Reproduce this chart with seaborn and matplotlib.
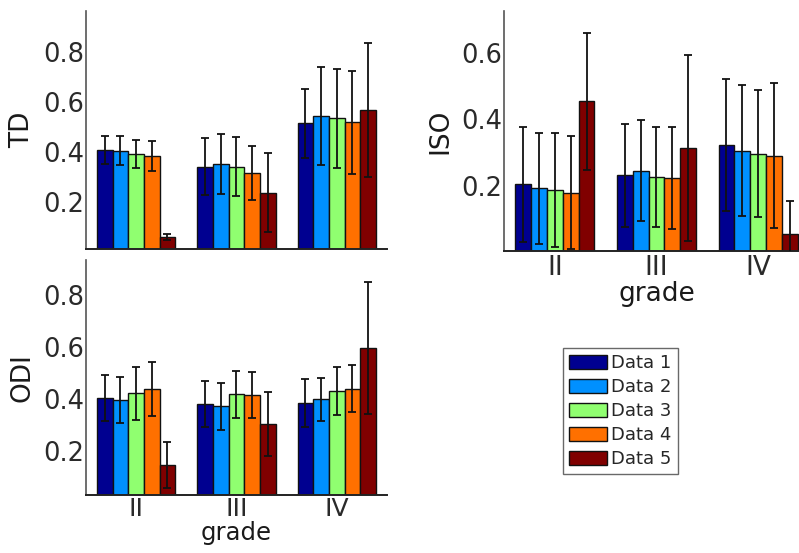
import numpy as np
import pandas as pd
import matplotlib
matplotlib.use("Agg")
import matplotlib.pyplot as plt
from matplotlib.patches import Patch
import seaborn as sns

sns.set_style("white")
plt.rcParams['font.family'] = ['DejaVu Sans']

grades = ['II', 'III', 'IV']
series = ['Data 1', 'Data 2', 'Data 3', 'Data 4', 'Data 5']
colors = ['#000090', '#0090ff', '#90ff70', '#ff7000', '#800000']

# means per series (rows) and grade (cols)
td_mean = [[0.407, 0.340, 0.514],
           [0.404, 0.350, 0.544],
           [0.390, 0.340, 0.534],
           [0.383, 0.314, 0.518],
           [0.058, 0.236, 0.568]]
td_err = [[0.057, 0.114, 0.138],
          [0.058, 0.120, 0.196],
          [0.057, 0.118, 0.198],
          [0.060, 0.109, 0.206],
          [0.013, 0.159, 0.268]]

iso_mean = [[0.204, 0.231, 0.322],
            [0.192, 0.246, 0.306],
            [0.188, 0.226, 0.297],
            [0.179, 0.224, 0.291],
            [0.454, 0.313, 0.056]]
iso_err = [[0.173, 0.155, 0.198],
           [0.168, 0.152, 0.197],
           [0.171, 0.150, 0.192],
           [0.170, 0.153, 0.217],
           [0.205, 0.280, 0.099]]

odi_mean = [[0.404, 0.379, 0.384],
            [0.397, 0.372, 0.398],
            [0.421, 0.417, 0.429],
            [0.437, 0.414, 0.439],
            [0.146, 0.304, 0.596]]
odi_err = [[0.088, 0.089, 0.091],
           [0.088, 0.090, 0.082],
           [0.102, 0.090, 0.092],
           [0.104, 0.089, 0.091],
           [0.088, 0.124, 0.256]]


def to_frame(mean, err):
    rows = []
    for i, s in enumerate(series):
        for j, g in enumerate(grades):
            rows.append({'grade': g, 'series': s, 'value': mean[i][j], 'err': err[i][j]})
    return pd.DataFrame(rows)


def draw(ax, mean, err, ylabel, ylim, yticks, show_x,
         xtick_size=19, xtick_pad=3, xlabel_size=19, xlabelpad=0):
    df = to_frame(mean, err)
    sns.barplot(data=df, x='grade', y='value', hue='series', palette=colors,
                width=0.78, saturation=1, edgecolor='#111111', linewidth=1.0,
                errorbar=None, legend=False, ax=ax)
    bars = list(ax.containers)
    for i, cont in enumerate(bars):
        xs = [b.get_x() + b.get_width() / 2 for b in cont]
        hs = [b.get_height() for b in cont]
        ax.errorbar(xs, hs, yerr=err[i], fmt='none', ecolor='#111111',
                    elinewidth=1.3, capsize=3.2, capthick=1.3, zorder=5)
    ax.set_xlim(-0.5, 2.5)
    ax.set_ylim(*ylim)
    ax.set_yticks(yticks)
    ax.set_yticklabels([f'{t:.1f}' for t in yticks])
    ax.set_ylabel(ylabel, fontsize=19, color='#1a1a1a', labelpad=6)
    ax.tick_params(axis='both', length=0, colors='#2a2a2a')
    ax.tick_params(axis='y', labelsize=18.5, pad=1)
    ax.tick_params(axis='x', labelsize=xtick_size, pad=xtick_pad)
    if show_x:
        ax.set_xlabel('grade', fontsize=xlabel_size, color='#1a1a1a', labelpad=xlabelpad)
    else:
        ax.set_xlabel('')
        ax.set_xticklabels([])
    for side in ['top', 'right']:
        ax.spines[side].set_visible(False)
    ax.spines['left'].set_color('#555555')
    ax.spines['bottom'].set_color('#222222')
    ax.spines['left'].set_linewidth(1.2)
    ax.spines['bottom'].set_linewidth(1.4)


fig = plt.figure(figsize=(7.99, 5.53), dpi=100)
ax_td = fig.add_axes([0.1076, 0.5497, 0.3767, 0.4304])
ax_iso = fig.add_axes([0.6308, 0.5456, 0.3817, 0.4340])
ax_odi = fig.add_axes([0.1076, 0.1049, 0.3767, 0.4250])

draw(ax_td, td_mean, td_err, 'TD', (0.01, 0.962), [0.2, 0.4, 0.6, 0.8], False)
draw(ax_iso, iso_mean, iso_err, 'ISO', (0.003, 0.725), [0.2, 0.4, 0.6], True)
draw(ax_odi, odi_mean, odi_err, 'ODI', (0.03, 0.935), [0.2, 0.4, 0.6, 0.8], True,
     xtick_size=18, xtick_pad=1.5, xlabel_size=17.5, xlabelpad=0)

handles = [Patch(facecolor=c, edgecolor='#111111', linewidth=1.0) for c in colors]
leg = fig.legend(handles, series, loc='upper left', bbox_to_anchor=(0.7046, 0.3707),
                 fontsize=13, frameon=True, fancybox=False, handlelength=2.1,
                 handleheight=0.8, handletextpad=0.2, labelspacing=0.33,
                 borderpad=0.35, borderaxespad=0)
leg.get_frame().set_edgecolor('#444444')
leg.get_frame().set_linewidth(1.0)

fig.savefig('out.png', dpi=100)
